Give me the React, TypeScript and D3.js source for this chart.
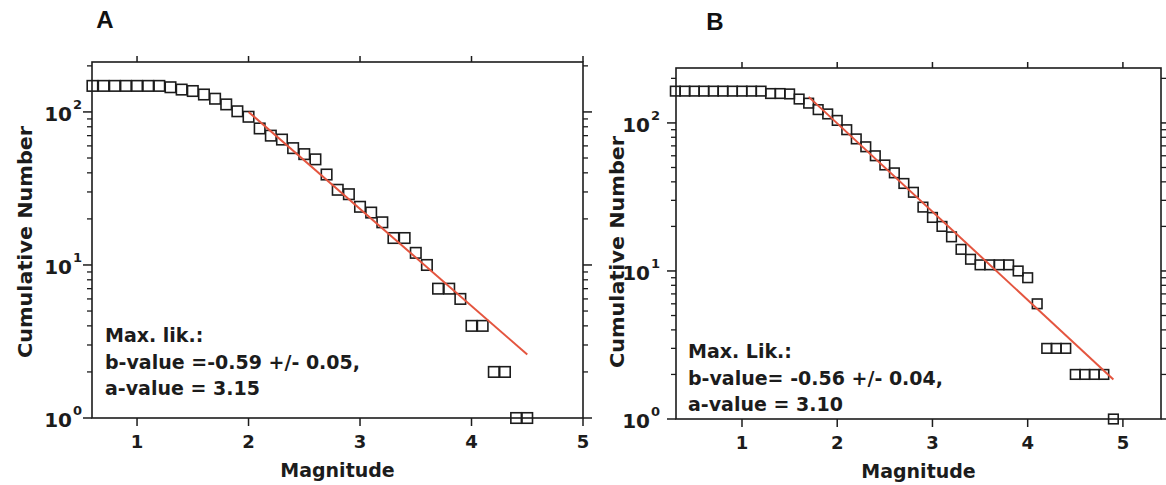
import React from "react";
import * as d3 from "d3";

// ---------- Data ----------
const magA = [0.6, 0.7, 0.8, 0.9, 1.0, 1.1, 1.2, 1.3, 1.4, 1.5, 1.6, 1.7, 1.8, 1.9, 2.0, 2.1, 2.2, 2.3, 2.4, 2.5, 2.6, 2.7, 2.8, 2.9, 3.0, 3.1, 3.2, 3.3, 3.4, 3.5, 3.6, 3.7, 3.8, 3.9, 4.0, 4.1, 4.2, 4.3, 4.4, 4.5];
const cumA = [148, 148, 148, 148, 148, 148, 148, 145, 140, 137, 130, 122, 112, 101, 93, 78, 70, 66, 58, 53, 49, 39, 31, 29, 24, 22, 19, 15, 15, 12, 10, 7, 7, 6, 4, 4, 2, 2, 1, 1];
const fitMagA = [2.0, 4.5];
const fitCumA = [100, 2.6];
const textA = ["Max. lik.:", "b-value =-0.59 +/- 0.05,", "a-value = 3.15"];

const magB = [0.3, 0.4, 0.5, 0.6, 0.7, 0.8, 0.9, 1.0, 1.1, 1.2, 1.3, 1.4, 1.5, 1.6, 1.7, 1.8, 1.9, 2.0, 2.1, 2.2, 2.3, 2.4, 2.5, 2.6, 2.7, 2.8, 2.9, 3.0, 3.1, 3.2, 3.3, 3.4, 3.5, 3.6, 3.7, 3.8, 3.9, 4.0, 4.1, 4.2, 4.3, 4.4, 4.5, 4.6, 4.7, 4.8, 4.9];
const cumB = [164, 164, 164, 164, 164, 164, 164, 164, 164, 164, 158, 158, 157, 145, 136, 123, 115, 104, 90, 78, 69, 60, 52, 46, 39, 34, 27, 23, 20, 17, 14, 12, 11, 11, 11, 11, 10, 9, 6, 3, 3, 3, 2, 2, 2, 2, 1];
const fitMagB = [1.7, 4.9];
const fitCumB = [150, 1.85];
const textB = ["Max. Lik.:", "b-value= -0.56 +/- 0.04,", "a-value = 3.10"];

const xTickValues = [1, 2, 3, 4, 5];
const yMajorTicks = [1, 10, 100];
const yMinorTicks = [2, 3, 4, 5, 6, 7, 8, 9, 20, 30, 40, 50, 60, 70, 80, 90, 200];
const yMajorExponents = ["0", "1", "2"];

const FONT = "'DejaVu Sans', Verdana, sans-serif";
const INK = "#1c1c1c";
const RED = "#e4553f";

type PanelProps = {
  letter: string;
  letterX: number;
  letterY: number;
  mags: number[];
  cums: number[];
  fitMags: number[];
  fitCums: number[];
  lines: string[];
  left: number;
  top: number;
  right: number;
  bottom: number;
  xDomain: [number, number];
  yMax: number;
  sq: number;
  labelGap: number;
  titleX: number;
  titleY: number;
  textX: number;
  textY: number;
};

function Panel(p: PanelProps) {
  const x = d3.scaleLinear().domain(p.xDomain).range([p.left, p.right]);
  const y = d3.scaleLog().domain([1, p.yMax]).range([p.bottom, p.top]);
  const line = d3
    .line<number>()
    .x((_, i) => x(p.fitMags[i]))
    .y((d) => y(d));
  const cx = (p.left + p.right) / 2;
  return (
    <g>
      <text x={p.letterX} y={p.letterY} textAnchor="middle" fontFamily="'Liberation Sans', Arial, sans-serif" fontWeight="bold" fontSize={24} fill="#111">
        {p.letter}
      </text>
      {/* frame */}
      <rect x={p.left} y={p.top} width={p.right - p.left} height={p.bottom - p.top} fill="none" stroke={INK} strokeWidth={1.6} />
      {/* x ticks bottom & top */}
      {xTickValues.map((t) => (
        <g key={"xt" + t}>
          <line x1={x(t)} x2={x(t)} y1={p.bottom} y2={p.bottom + 8} stroke={INK} strokeWidth={1.5} />
          <line x1={x(t)} x2={x(t)} y1={p.top} y2={p.top - 6} stroke={INK} strokeWidth={1.5} />
          <text x={x(t)} y={p.bottom + 30} textAnchor="middle" fontFamily={FONT} fontWeight="bold" fontSize={18} fill={INK}>
            {t}
          </text>
        </g>
      ))}
      {/* y ticks */}
      {yMajorTicks.map((t, i) => (
        <g key={"ym" + t}>
          <line x1={p.left} x2={p.left - 9} y1={y(t)} y2={y(t)} stroke={INK} strokeWidth={1.5} />
          <line x1={p.right} x2={p.right + 9} y1={y(t)} y2={y(t)} stroke={INK} strokeWidth={1.5} />
          <text x={p.left - p.labelGap} y={y(t) + 9} textAnchor="end" fontFamily={FONT} fontWeight="bold" fontSize={20} fill={INK}>
            10
          </text>
          <text x={p.left - p.labelGap + 1} y={y(t) - 3} textAnchor="start" fontFamily={FONT} fontWeight="bold" fontSize={13} fill={INK}>
            {yMajorExponents[i]}
          </text>
        </g>
      ))}
      {yMinorTicks
        .filter((t) => t <= p.yMax)
        .map((t) => (
          <g key={"yn" + t}>
            <line x1={p.left} x2={p.left - 5} y1={y(t)} y2={y(t)} stroke={INK} strokeWidth={1.3} />
            <line x1={p.right} x2={p.right + 5} y1={y(t)} y2={y(t)} stroke={INK} strokeWidth={1.3} />
          </g>
        ))}
      {/* axis titles */}
      <text x={cx} y={p.bottom + 59} textAnchor="middle" fontFamily={FONT} fontWeight="bold" fontSize={19} fill={INK}>
        Magnitude
      </text>
      <text
        transform={`translate(${p.titleX},${p.titleY}) rotate(-90)`}
        textAnchor="middle"
        dominantBaseline="central"
        fontFamily={FONT}
        fontWeight="bold"
        fontSize={19}
        textLength={232}
        lengthAdjust="spacingAndGlyphs"
        fill={INK}
      >
        Cumulative Number
      </text>
      {/* squares */}
      {p.mags.map((m, i) => (
        <rect
          key={"s" + i}
          x={x(m) - p.sq / 2}
          y={y(p.cums[i]) - p.sq / 2}
          width={p.sq}
          height={p.sq}
          fill="none"
          stroke={INK}
          strokeWidth={1.6}
        />
      ))}
      {/* fit line */}
      <path d={line(p.fitCums) || ""} fill="none" stroke={RED} strokeWidth={2} />
      {/* annotation */}
      {p.lines.map((s, i) => (
        <text key={"t" + i} x={p.textX} y={p.textY + i * 26.5} fontFamily={FONT} fontWeight="bold" fontSize={19} fill={INK}>
          {s}
        </text>
      ))}
    </g>
  );
}

export default function App() {
  return (
    <svg width={1166} height={485} style={{ position: "absolute", left: 0, top: 0, background: "#fff" }}>
      <rect x={0} y={0} width={1166} height={485} fill="#fff" />
      <Panel
        letter="A"
        letterX={105}
        letterY={28}
        mags={magA}
        cums={cumA}
        fitMags={fitMagA}
        fitCums={fitCumA}
        lines={textA}
        left={92}
        top={62}
        right={583}
        bottom={418}
        xDomain={[0.596, 5.0]}
        yMax={212}
        sq={10.5}
        labelGap={20}
        titleX={25}
        titleY={242}
        textX={105}
        textY={342}
      />
      <Panel
        letter="B"
        letterX={715}
        letterY={30}
        mags={magB}
        cums={cumB}
        fitMags={fitMagB}
        fitCums={fitCumB}
        lines={textB}
        left={676}
        top={68}
        right={1161}
        bottom={419}
        xDomain={[0.307, 5.4]}
        yMax={235}
        sq={9.6}
        labelGap={26}
        titleX={617}
        titleY={252}
        textX={688}
        textY={358}
      />
    </svg>
  );
}
